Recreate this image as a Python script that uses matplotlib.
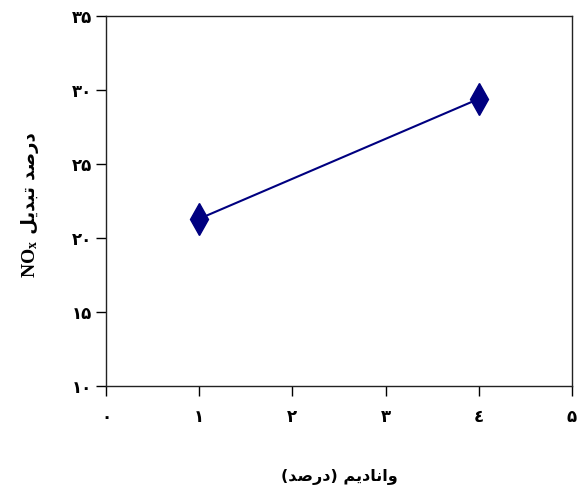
import matplotlib
matplotlib.use("Agg")
from matplotlib import pyplot as plt

# vanadium loading (%) and NOx conversion (%)
vanadium = [1, 4]
conversion = [21.3, 29.4]

x_ticks = [0, 1, 2, 3, 4, 5]
x_tick_labels = ["\u06f0", "\u06f1", "\u06f2", "\u06f3", "\u0664", "\u06f5"]
y_ticks = [10, 15, 20, 25, 30, 35]
y_tick_labels = ["\u06f1\u06f0", "\u06f1\u06f5", "\u06f2\u06f0",
                 "\u06f2\u06f5", "\u06f3\u06f0", "\u06f3\u06f5"]

# Persian labels written in visual order with presentation forms,
# since matplotlib does not shape or reorder right-to-left text
darsad = "\ufeaa\ufebb\ufead\ufea9"                    # درصد
tabdil = "\ufede\ufef3\ufeaa\ufe92\ufe97"              # تبدیل
vanadium_word = "\ufee2\ufef3\ufea9\ufe8e\ufee7\ufe8d\ufeed"  # وانادیم
x_title = "(" + darsad + ") " + vanadium_word
y_title = " " + tabdil + " " + darsad

plt.rcParams['mathtext.fontset'] = 'custom'
plt.rcParams['mathtext.bf'] = 'Liberation Serif:bold'
plt.rcParams['mathtext.rm'] = 'Liberation Serif:bold'

fig = plt.figure(figsize=(5.83, 4.91), dpi=100)
ax = fig.add_axes([106/583, 1 - 386/491, 466/583, 370/491])

ax.plot(vanadium, conversion, color='#000080', linewidth=1.5,
        marker='d', markersize=16, markerfacecolor='#000080',
        markeredgecolor='#000080')

ax.set_xlim(0, 5)
ax.set_ylim(10, 35)
ax.set_xticks(x_ticks, x_tick_labels)
ax.set_yticks(y_ticks, y_tick_labels)
ax.tick_params(direction='out', length=7, width=1, colors='black',
               labelsize=12)
ax.tick_params(axis='x', pad=9)
ax.tick_params(axis='y', pad=3)
for lbl in ax.get_xticklabels() + ax.get_yticklabels():
    lbl.set_fontweight('bold')
    lbl.set_family('DejaVu Sans')

for s in ax.spines.values():
    s.set_linewidth(1.0)
    s.set_color('#222222')

fig.text(339/583, 1 - 477/491, x_title, ha='center', va='center',
         fontsize=11.5, fontweight='bold', family='DejaVu Sans')

# y title: Persian words running upward, NOx placed just below them
yx, yy = 35/583, 1 - 240/491
fig.text(yx, yy, y_title, ha='left', va='baseline', rotation=90,
         rotation_mode='anchor', fontsize=13, fontweight='bold',
         family='DejaVu Sans')
fig.text(yx, yy, r"$\mathbf{NO_x}$", ha='right', va='baseline',
         rotation=90, rotation_mode='anchor', fontsize=14)

fig.savefig("out.png", dpi=100)
